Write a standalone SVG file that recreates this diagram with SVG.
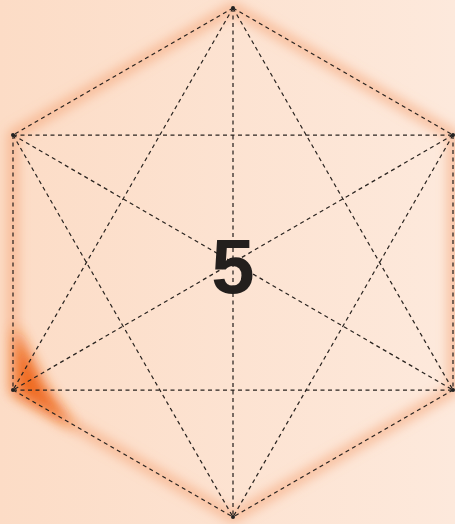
<svg xmlns="http://www.w3.org/2000/svg" width="455" height="524" viewBox="0 0 455 524">
<defs>
<linearGradient id="bg" x1="0" y1="0" x2="1" y2="0">
<stop offset="0" stop-color="#fcdcc6"/>
<stop offset="1" stop-color="#fde9dc"/>
</linearGradient>
<filter id="blur" x="-20%" y="-20%" width="140%" height="140%"><feGaussianBlur stdDeviation="6"/></filter>
<filter id="blur2" x="-50%" y="-50%" width="200%" height="200%"><feGaussianBlur stdDeviation="7"/></filter>
</defs>
<style>
.e{stroke:#2a2420;stroke-width:1.25;stroke-dasharray:4 3.5;fill:none}
.lbl{font-family:"Liberation Sans",Arial,sans-serif;font-weight:bold;font-size:78px;fill:#231f1d}
</style>
<rect width="455" height="524" fill="url(#bg)"/>
<g id="glow">
<polygon points="233,8 453,135 453,390 233,517 13,390 13,135" fill="none" stroke="#f5a070" stroke-opacity="0.65" stroke-width="10" filter="url(#blur)"/>
<path d="M15,325 L15,393 L75,428 L45,385 Z" fill="#ee6418" opacity="0.95" filter="url(#blur2)"/>
</g>
<g id="connectors">
<path class="e" d="M233,8 L13,135 M233,8 L453,135 M13,135 L13,390 M453,135 L453,390 M13,390 L233,517 M453,390 L233,517"/>
<path class="e" d="M13,135 L453,135 M13,390 L453,390 M233,8 L233,517 M13,135 L453,390 M453,135 L13,390"/>
<path class="e" d="M233,8 L13,390 M233,8 L453,390 M13,135 L233,517 M453,135 L233,517"/>
</g>
<g id="nodes">
<circle id="n-top" cx="233" cy="8" r="2" fill="#222"/>
<circle id="n-ul" cx="13" cy="135" r="2" fill="#222"/>
<circle id="n-ur" cx="453" cy="135" r="2" fill="#222"/>
<circle id="n-ll" cx="13" cy="390" r="2" fill="#222"/>
<circle id="n-lr" cx="453" cy="390" r="2" fill="#222"/>
<circle id="n-bot" cx="233" cy="517" r="2" fill="#222"/>
</g>
<g id="label"><text class="lbl" x="233" y="293" text-anchor="middle">5</text></g>
</svg>
